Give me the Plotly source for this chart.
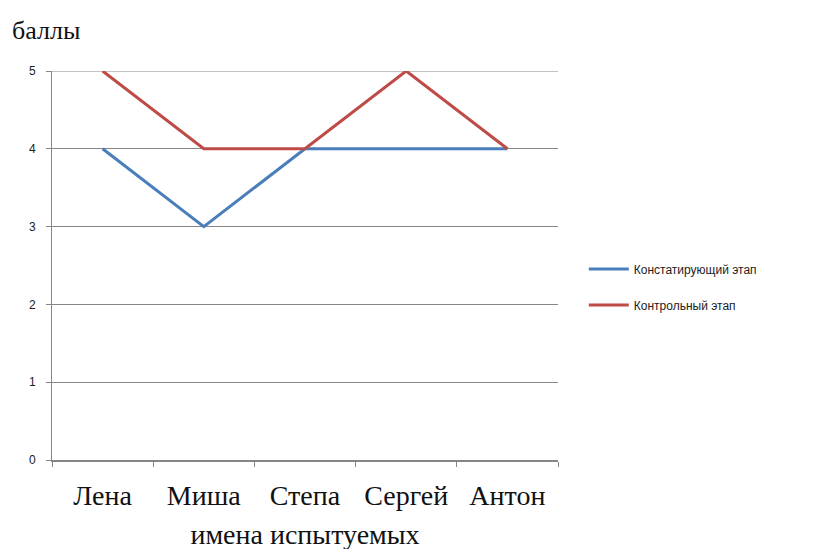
import plotly.graph_objects as go

names = ['Лена', 'Миша', 'Степа', 'Сергей', 'Антон']
stage_check = [4, 3, 4, 4, 4]
stage_control = [5, 4, 4, 5, 4]
y_max = 5

fig = go.Figure()
fig.add_trace(go.Scatter(x=names, y=stage_check, mode='lines', name='Констатирующий этап',
                         legendgroup='a', line=dict(color='#4A7EBB', width=3)))
fig.add_trace(go.Scatter(x=names, y=stage_control, mode='lines', name='Контрольный этап',
                         legendgroup='b', line=dict(color='#BE4B48', width=3)))

# top gridline (plotly drops the one sitting on the range edge)
fig.add_hline(y=y_max, line=dict(color='#868686', width=1), layer='below')

serif = 'Liberation Serif, Times New Roman'

# page body has an 8px margin, so margins are shifted by 8
fig.update_layout(
    width=817, height=549,
    margin=dict(l=44, r=267, t=63, b=95),
    plot_bgcolor='white', paper_bgcolor='white',
    showlegend=True,
    legend=dict(x=1.051, y=0.445, yanchor='middle', xanchor='left',
                font=dict(family='Liberation Sans Narrow, Arial Narrow, Arial', size=12, color='#222'),
                tracegroupgap=17, itemwidth=40),
    xaxis=dict(
        type='category', range=[-0.5, 4.5],
        tickson='boundaries', ticks='outside', ticklen=5, tickcolor='#868686',
        showline=True, linecolor='#868686', linewidth=1.5, showgrid=False,
        ticklabelstandoff=10,
        tickfont=dict(family=serif, size=28, color='#111'),
        title=dict(text='имена испытуемых', standoff=14,
                   font=dict(family=serif, size=28, color='#111')),
    ),
    yaxis=dict(
        range=[0, y_max], dtick=1, ticks='outside', ticklen=5, tickcolor='#868686',
        showline=True, linecolor='#868686', linewidth=1, zeroline=False,
        showgrid=True, gridcolor='#868686', gridwidth=1,
        ticklabelstandoff=8,
        tickfont=dict(family='Liberation Sans, Arial', size=12, color='#222'),
    ),
    annotations=[dict(text='баллы', xref='paper', yref='paper', x=-0.083, y=1.105,
                      xanchor='left', yanchor='middle', showarrow=False,
                      font=dict(family=serif, size=26, color='#111'))],
)

fig.write_html("out.html")
